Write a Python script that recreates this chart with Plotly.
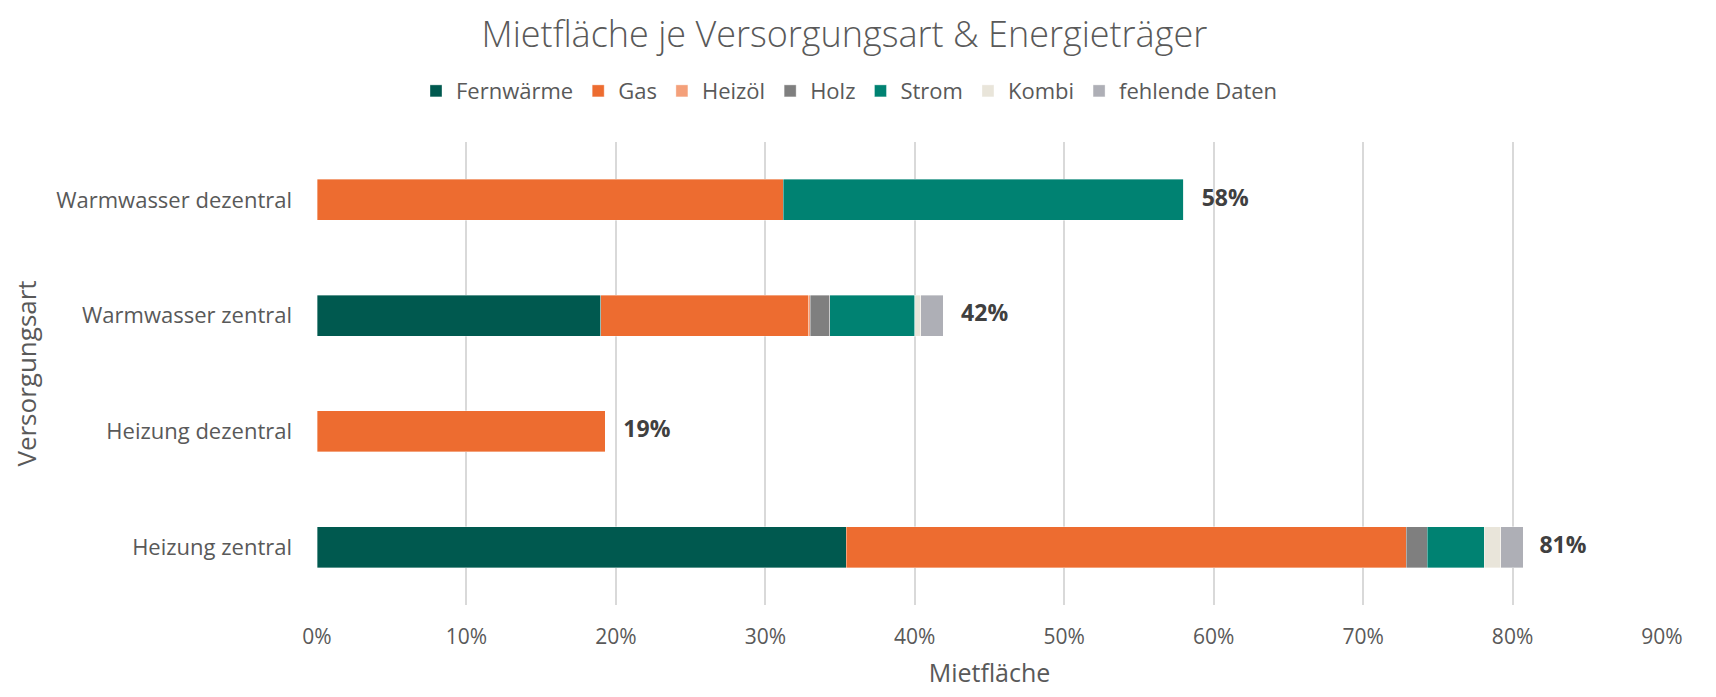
import plotly.graph_objects as go

categories = ["Heizung zentral", "Heizung dezentral", "Warmwasser zentral", "Warmwasser dezentral"]
fernwaerme = [0.354, 0.0, 0.190, 0.0]
gas = [0.375, 0.193, 0.139, 0.312]
heizoel = [0.0, 0.0, 0.001, 0.0]
holz = [0.014, 0.0, 0.013, 0.0]
strom = [0.038, 0.0, 0.057, 0.268]
kombi = [0.011, 0.0, 0.004, 0.0]
fehlend = [0.015, 0.0, 0.015, 0.0]
totals = [0.806, 0.193, 0.419, 0.580]
total_labels = ["81%", "19%", "42%", "58%"]

series = [
    ("Fernwärme", fernwaerme, "#00594F"),
    ("Gas", gas, "#ED6C30"),
    ("Heizöl", heizoel, "#F4A07A"),
    ("Holz", holz, "#7F7F7F"),
    ("Strom", strom, "#008272"),
    ("Kombi", kombi, "#E9E5DA"),
    ("fehlende Daten", fehlend, "#AEAFB6"),
]

font_family = "Open Sans, Noto Sans, sans-serif"
fig = go.Figure()
for name, vals, col in series:
    fig.add_trace(go.Bar(
        y=categories, x=vals, name=name, orientation="h",
        marker=dict(color=col, line=dict(color="rgba(255,255,255,0.6)", width=0.6)),
        hoverinfo="x+name",
    ))

fig.add_trace(go.Scatter(
    y=categories, x=totals, mode="text", text=["   " + t for t in total_labels],
    textposition="middle right", showlegend=False,
    textfont=dict(size=23, color="#404040", family=font_family, weight="bold"),
    cliponaxis=False, hoverinfo="skip",
))

fig.update_layout(
    barmode="stack",
    bargap=0.645,
    width=1700, height=681,
    margin=dict(l=309, r=46, t=134, b=84, autoexpand=False),
    paper_bgcolor="white", plot_bgcolor="white",
    font=dict(family=font_family, color="#595959", size=21),
    title=dict(text="Mietfläche je Versorgungsart & Energieträger", x=0.492, xanchor="center",
               y=0.961, yanchor="middle",
               font=dict(size=36, color="#595959", weight=300)),
    legend=dict(orientation="h", x=0.495, xanchor="center", xref="container",
                y=0.878, yanchor="middle", yref="container",
                font=dict(size=22, color="#595959"), traceorder="normal",
                itemwidth=30, tracegroupgap=0),
    xaxis=dict(range=[0, 0.9], tickformat=".0%", dtick=0.1, showgrid=True,
               gridcolor="#D9D9D9", gridwidth=1.5, zeroline=False, automargin=False,
               title=dict(text="Mietfläche", font=dict(size=25), standoff=32),
               ticks="", ticklabelstandoff=17, tickfont=dict(size=21)),
    yaxis=dict(title=dict(text="Versorgungsart", font=dict(size=26), standoff=15),
               automargin=False,
               ticks="", ticklabelstandoff=24, showgrid=False, tickfont=dict(size=22)),
)

fig.write_html("out.html")
